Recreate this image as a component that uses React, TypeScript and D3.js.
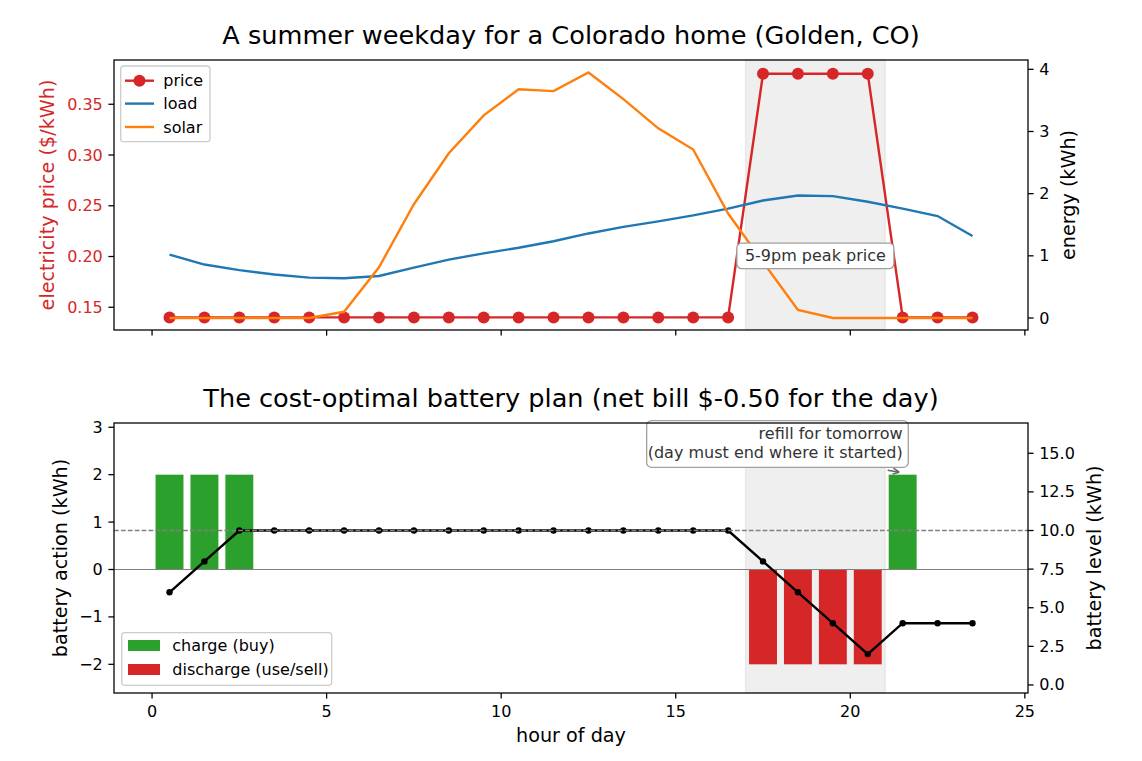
import React from 'react';
import * as d3 from 'd3';

// hour-of-day centres, one per hourly interval
const HOURS = [
  0.5, 1.5, 2.5, 3.5, 4.5, 5.5, 6.5, 7.5, 8.5, 9.5, 10.5, 11.5,
  12.5, 13.5, 14.5, 15.5, 16.5, 17.5, 18.5, 19.5, 20.5, 21.5, 22.5, 23.5,
];
// $/kWh time-of-use tariff
const PRICE = [
  0.14, 0.14, 0.14, 0.14, 0.14, 0.14, 0.14, 0.14, 0.14, 0.14, 0.14, 0.14,
  0.14, 0.14, 0.14, 0.14, 0.14, 0.38, 0.38, 0.38, 0.38, 0.14, 0.14, 0.14,
];
// household load, kWh per hour
const LOAD = [
  1.02, 0.86, 0.77, 0.7, 0.65, 0.64, 0.675, 0.81, 0.94, 1.04, 1.13, 1.235,
  1.36, 1.465, 1.555, 1.65, 1.76, 1.89, 1.97, 1.96, 1.87, 1.76, 1.64, 1.32,
];
// rooftop solar, kWh per hour
const SOLAR = [
  0, 0, 0, 0, 0, 0.1, 0.815, 1.83, 2.65, 3.26, 3.68, 3.65,
  3.95, 3.52, 3.05, 2.71, 1.68, 0.9, 0.13, 0, 0, 0, 0, 0,
];
// battery charge (+) / discharge (-), kWh per hour
const ACTION = [
  2, 2, 2, 0, 0, 0, 0, 0, 0, 0, 0, 0,
  0, 0, 0, 0, 0, -2, -2, -2, -2, 2, 0, 0,
];
// state of charge at the end of each hour, kWh
const LEVEL = [
  6, 8, 10, 10, 10, 10, 10, 10, 10, 10, 10, 10,
  10, 10, 10, 10, 10, 8, 6, 4, 2, 4, 4, 4,
];

const X_TICKS = [0, 5, 10, 15, 20, 25];
const PRICE_TICKS = [0.15, 0.2, 0.25, 0.3, 0.35];
const ENERGY_TICKS = [0, 1, 2, 3, 4];
const ACTION_TICKS = [-2, -1, 0, 1, 2, 3];
const LEVEL_TICKS = [0, 2.5, 5, 7.5, 10, 12.5, 15];
const PEAK_WINDOW = [17, 21];
const CAPACITY = 10;
const PEAK_LABEL_AT = [19, 1.0];
const REFILL_TARGET = [21.5, 2];

const W = 1142;
const H = 761;
const FONT = '"DejaVu Sans", sans-serif';
const RED = '#d62728';
const BLUE = '#1f77b4';
const ORANGE = '#ff7f0e';
const GREEN = '#2ca02c';
const TICK = 5.6;
const PAD = 5.6;
const SMALL = 16;
const LABEL = 19.2;
const TITLE = 25.6;

const TOP = { left: 114, right: 1028, top: 60, bottom: 330 };
const BOT = { left: 114, right: 1028, top: 423, bottom: 693 };

export default function App() {
  const x = d3.scaleLinear().domain([-1.09, 25.09]).range([TOP.left, TOP.right]);
  const yPrice = d3.scaleLinear().domain([0.1276, 0.3936]).range([TOP.bottom, TOP.top]);
  const yEnergy = d3.scaleLinear().domain([-0.193, 4.15]).range([TOP.bottom, TOP.top]);
  const yAction = d3.scaleLinear().domain([-2.605, 3.09]).range([BOT.bottom, BOT.top]);
  const yLevel = d3.scaleLinear().domain([-0.52, 16.96]).range([BOT.bottom, BOT.top]);

  const priceLine = d3.line<number>().x((_, i) => x(HOURS[i])).y(d => yPrice(d));
  const energyLine = d3.line<number>().x((_, i) => x(HOURS[i])).y(d => yEnergy(d));
  const levelLine = d3.line<number>().x((_, i) => x(HOURS[i])).y(d => yLevel(d));

  const barW = x(0.8) - x(0);
  const fmt2 = d3.format('.2f');
  const fmt1 = d3.format('.1f');
  const fmtInt = d3.format('d');

  // peak-price callout box
  const peakText = '5-9pm peak price';
  const peakW = 157;
  const peakH = 25.6;
  const pcx = x(PEAK_LABEL_AT[0]);
  const pcy = yEnergy(PEAK_LABEL_AT[1]);

  // refill callout, right-aligned to the target hour
  const tx = x(REFILL_TARGET[0]);
  const ty = yAction(REFILL_TARGET[1]);
  const boxRight = tx + 5.6;
  const boxLeft = boxRight - 261.6;
  const boxTop = 420.7;
  const boxBottom = 467.3;
  const arrowStart: [number, number] = [tx - 15, ty - 4.5];
  const arrowTip: [number, number] = [tx - 3.5, ty - 2.5];
  const ang = Math.atan2(arrowTip[1] - arrowStart[1], arrowTip[0] - arrowStart[0]);
  const head = (da: number) =>
    `M${arrowTip[0] - 7 * Math.cos(ang + da)},${arrowTip[1] - 7 * Math.sin(ang + da)}L${arrowTip[0]},${arrowTip[1]}`;

  const xTicks = (panel: typeof TOP, labels: boolean) =>
    X_TICKS.map(t => (
      <g key={t}>
        <line x1={x(t)} x2={x(t)} y1={panel.bottom} y2={panel.bottom + TICK} stroke="#000" strokeWidth={1.28} />
        {labels && (
          <text x={x(t)} y={panel.bottom + TICK + PAD + 12.4} textAnchor="middle" fontSize={SMALL}>
            {t}
          </text>
        )}
      </g>
    ));

  const leftTicks = (ticks: number[], scale: d3.ScaleLinear<number, number>, left: number, f: (n: number) => string, color: string) =>
    ticks.map(t => (
      <g key={t}>
        <line x1={left - TICK} x2={left} y1={scale(t)} y2={scale(t)} stroke="#000" strokeWidth={1.28} />
        <text x={left - TICK - PAD} y={scale(t)} textAnchor="end" dominantBaseline="central" fontSize={SMALL} fill={color}>
          {f(t)}
        </text>
      </g>
    ));

  const rightTicks = (ticks: number[], scale: d3.ScaleLinear<number, number>, right: number, f: (n: number) => string) =>
    ticks.map(t => (
      <g key={t}>
        <line x1={right} x2={right + TICK} y1={scale(t)} y2={scale(t)} stroke="#000" strokeWidth={1.28} />
        <text x={right + TICK + PAD} y={scale(t)} textAnchor="start" dominantBaseline="central" fontSize={SMALL}>
          {f(t)}
        </text>
      </g>
    ));

  const span = (panel: typeof TOP) => (
    <rect
      x={x(PEAK_WINDOW[0])}
      y={panel.top}
      width={x(PEAK_WINDOW[1]) - x(PEAK_WINDOW[0])}
      height={panel.bottom - panel.top}
      fill="#808080"
      fillOpacity={0.13}
      stroke="#808080"
      strokeOpacity={0.13}
      strokeWidth={1.3}
    />
  );

  return (
    <svg width={W} height={H} style={{ position: 'absolute', left: 0, top: 0, background: '#fff' }} fontFamily={FONT}>
      <rect width={W} height={H} fill="#fff" />

      {/* ---- top panel: tariff, load and solar ---- */}
      <text x={(TOP.left + TOP.right) / 2} y={43.5} textAnchor="middle" fontSize={TITLE}>
        A summer weekday for a Colorado home (Golden, CO)
      </text>
      {span(TOP)}
      <path d={priceLine(PRICE) ?? ''} fill="none" stroke={RED} strokeWidth={2.4} />
      {PRICE.map((p, i) => (
        <circle key={i} cx={x(HOURS[i])} cy={yPrice(p)} r={6} fill={RED} />
      ))}
      <path d={energyLine(LOAD) ?? ''} fill="none" stroke={BLUE} strokeWidth={2.4} />
      <path d={energyLine(SOLAR) ?? ''} fill="none" stroke={ORANGE} strokeWidth={2.4} />

      <rect x={pcx - peakW / 2} y={pcy - peakH / 2} width={peakW} height={peakH} rx={4.8} fill="#fff" stroke="#a0a0a0" strokeWidth={1.3} />
      <text x={pcx} y={pcy} textAnchor="middle" dominantBaseline="central" fontSize={SMALL} fill="#333">
        {peakText}
      </text>

      <g>
        <rect x={120.7} y={66} width={89.3} height={75.7} rx={3.2} fill="#fff" fillOpacity={0.8} stroke="#cccccc" strokeWidth={1.3} />
        <line x1={125} x2={154} y1={80.7} y2={80.7} stroke={RED} strokeWidth={2.4} />
        <circle cx={139.5} cy={80.7} r={6} fill={RED} />
        <text x={163.3} y={80.7} dominantBaseline="central" fontSize={SMALL}>price</text>
        <line x1={125} x2={154} y1={103.6} y2={103.6} stroke={BLUE} strokeWidth={2.4} />
        <text x={163.3} y={103.6} dominantBaseline="central" fontSize={SMALL}>load</text>
        <line x1={125} x2={154} y1={127} y2={127} stroke={ORANGE} strokeWidth={2.4} />
        <text x={163.3} y={127} dominantBaseline="central" fontSize={SMALL}>solar</text>
      </g>

      <rect x={TOP.left} y={TOP.top} width={TOP.right - TOP.left} height={TOP.bottom - TOP.top} fill="none" stroke="#000" strokeWidth={1.28} />
      {xTicks(TOP, false)}
      {leftTicks(PRICE_TICKS, yPrice, TOP.left, fmt2, RED)}
      {rightTicks(ENERGY_TICKS, yEnergy, TOP.right, fmtInt)}
      <text transform={`translate(47,${(TOP.top + TOP.bottom) / 2}) rotate(-90)`} textAnchor="middle" dominantBaseline="central" fontSize={LABEL} fill={RED}>
        electricity price ($/kWh)
      </text>
      <text transform={`translate(1068,${(TOP.top + TOP.bottom) / 2}) rotate(-90)`} textAnchor="middle" dominantBaseline="central" fontSize={LABEL}>
        energy (kWh)
      </text>

      {/* ---- bottom panel: battery schedule ---- */}
      <text x={(BOT.left + BOT.right) / 2} y={406.5} textAnchor="middle" fontSize={TITLE}>
        The cost-optimal battery plan (net bill $-0.50 for the day)
      </text>
      {span(BOT)}
      {ACTION.map((a, i) =>
        a === 0 ? null : (
          <rect
            key={i}
            x={x(HOURS[i]) - barW / 2}
            y={yAction(Math.max(a, 0))}
            width={barW}
            height={Math.abs(yAction(a) - yAction(0))}
            fill={a > 0 ? GREEN : RED}
          />
        )
      )}
      <line x1={BOT.left} x2={BOT.right} y1={yAction(0)} y2={yAction(0)} stroke="#808080" strokeWidth={1.1} />

      <g>
        <rect x={121.7} y={632.7} width={210} height={52.6} rx={3.2} fill="#fff" fillOpacity={0.8} stroke="#cccccc" strokeWidth={1.3} />
        <rect x={128} y={640} width={32} height={11} fill={GREEN} />
        <text x={172.3} y={645.5} dominantBaseline="central" fontSize={SMALL}>charge (buy)</text>
        <rect x={128} y={664} width={32} height={11} fill={RED} />
        <text x={172.3} y={669.5} dominantBaseline="central" fontSize={SMALL}>discharge (use/sell)</text>
      </g>

      <path d={levelLine(LEVEL) ?? ''} fill="none" stroke="#000" strokeWidth={2.4} />
      {LEVEL.map((l, i) => (
        <circle key={i} cx={x(HOURS[i])} cy={yLevel(l)} r={3.2} fill="#000" />
      ))}
      <line
        x1={BOT.left}
        x2={BOT.right}
        y1={yLevel(CAPACITY)}
        y2={yLevel(CAPACITY)}
        stroke="#808080"
        strokeWidth={1.3}
        strokeDasharray="4.8 2.1"
      />

      <rect x={boxLeft} y={boxTop} width={boxRight - boxLeft} height={boxBottom - boxTop} rx={4.8} fill="#fff" stroke="#a0a0a0" strokeWidth={1.3} />
      <text x={tx} y={439} textAnchor="end" fontSize={SMALL} fill="#333">refill for tomorrow</text>
      <text x={tx} y={457.5} textAnchor="end" fontSize={SMALL} fill="#333">(day must end where it started)</text>
      <g stroke="#666" strokeWidth={1.5} fill="none">
        <line x1={arrowStart[0]} y1={arrowStart[1]} x2={arrowTip[0]} y2={arrowTip[1]} />
        <path d={head(0.45)} />
        <path d={head(-0.45)} />
      </g>

      <rect x={BOT.left} y={BOT.top} width={BOT.right - BOT.left} height={BOT.bottom - BOT.top} fill="none" stroke="#000" strokeWidth={1.28} />
      {xTicks(BOT, true)}
      {leftTicks(ACTION_TICKS, yAction, BOT.left, fmtInt, '#000')}
      {rightTicks(LEVEL_TICKS, yLevel, BOT.right, fmt1)}
      <text transform={`translate(60.5,${(BOT.top + BOT.bottom) / 2}) rotate(-90)`} textAnchor="middle" dominantBaseline="central" fontSize={LABEL}>
        battery action (kWh)
      </text>
      <text transform={`translate(1094,${(BOT.top + BOT.bottom) / 2}) rotate(-90)`} textAnchor="middle" dominantBaseline="central" fontSize={LABEL}>
        battery level (kWh)
      </text>
      <text x={(BOT.left + BOT.right) / 2} y={742} textAnchor="middle" fontSize={LABEL}>
        hour of day
      </text>
    </svg>
  );
}
